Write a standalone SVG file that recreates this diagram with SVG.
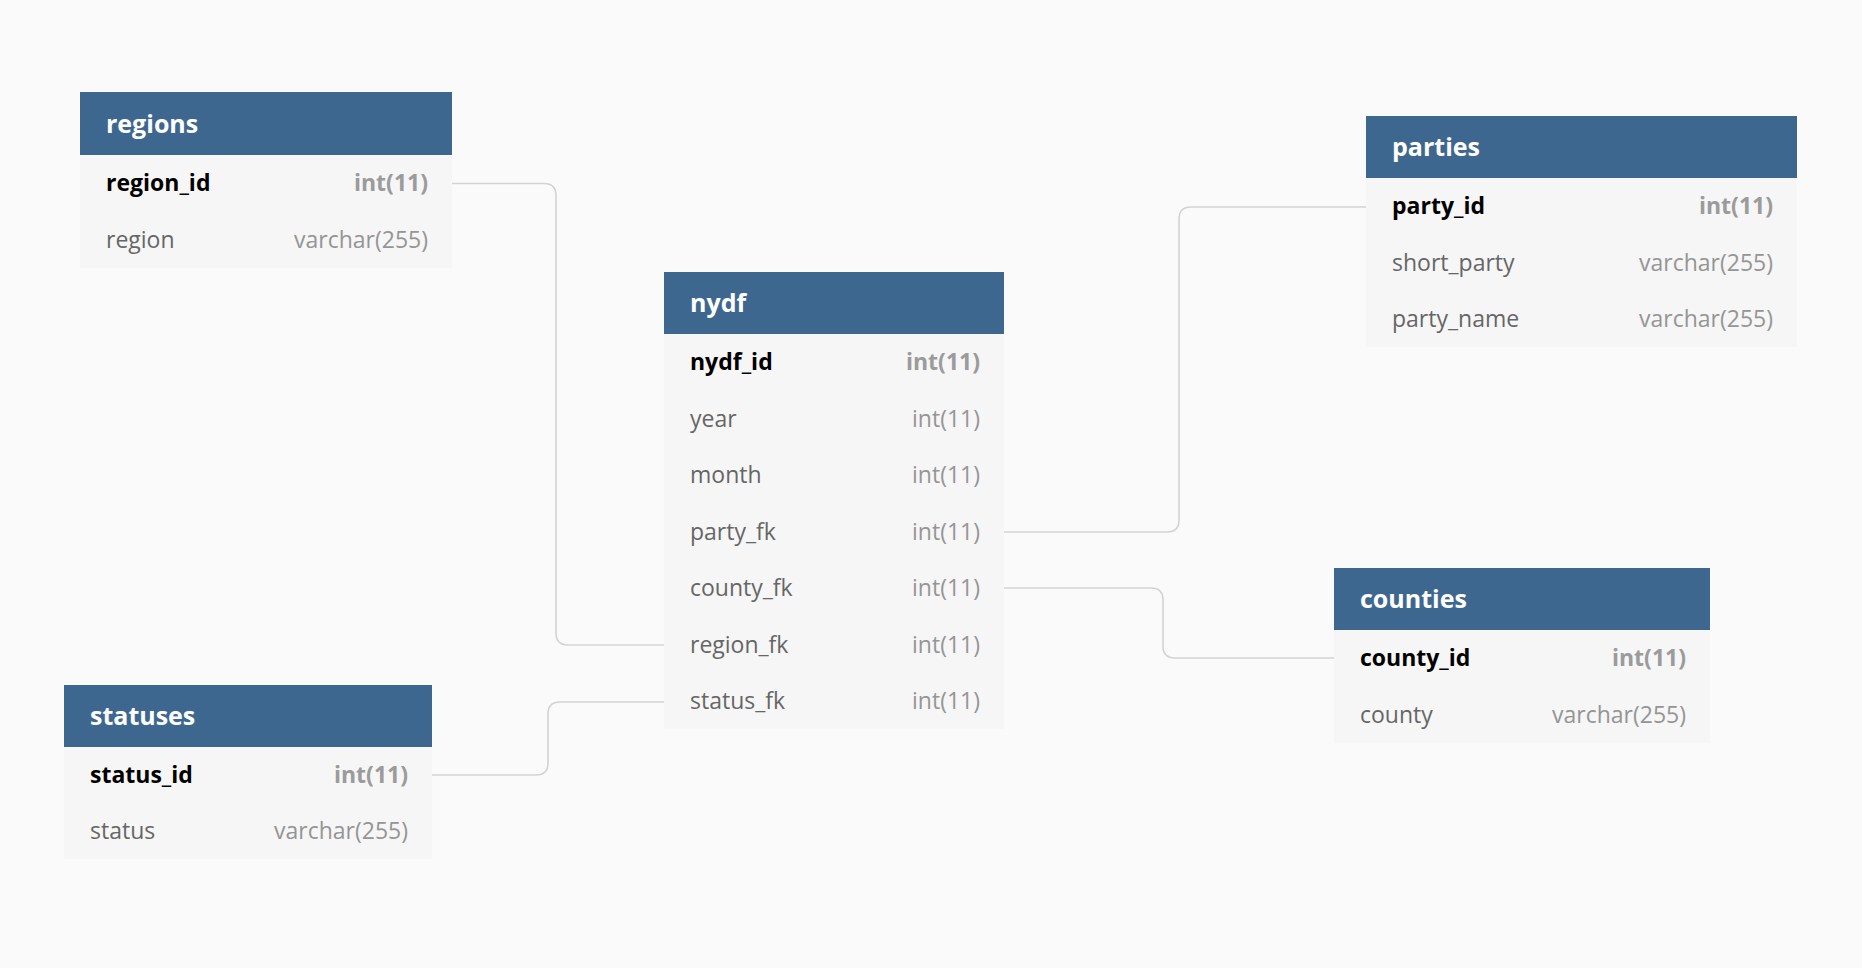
<svg xmlns="http://www.w3.org/2000/svg" width="1862" height="968" viewBox="0 0 1862 968">
<style>
.bg{fill:#fafafa}
.hd{fill:#3e6790}
.bd{fill:#f6f6f6}
.ttl{font-family:"Open Sans","Noto Sans",sans-serif;font-size:25px;font-weight:700;fill:#ffffff}
.pk{font-family:"Open Sans","Noto Sans",sans-serif;font-size:23px;font-weight:700;fill:#000000}
.pkt{font-family:"Open Sans","Noto Sans",sans-serif;font-size:23px;font-weight:700;fill:#9b9b9b;text-anchor:end}
.fn{font-family:"Open Sans","Noto Sans",sans-serif;font-size:23px;fill:#666666}
.ft{font-family:"Open Sans","Noto Sans",sans-serif;font-size:23px;fill:#959595;text-anchor:end}
.cn{fill:none;stroke:#d3d3d3;stroke-width:1.6}
</style>
<rect class="bg" x="0" y="0" width="1862" height="968"/>
<g id="connectors">
<path class="cn" d="M452,183.5 H544 Q556,183.5 556,195.5 V633 Q556,645 568,645 H664"/>
<path class="cn" d="M432,775 H536 Q548,775 548,763 V714 Q548,702 560,702 H664"/>
<path class="cn" d="M1004,532 H1167 Q1179,532 1179,520 V219 Q1179,207 1191,207 H1366"/>
<path class="cn" d="M1004,588 H1151 Q1163,588 1163,600 V646 Q1163,658 1175,658 H1334"/>
</g>
<g id="regions">
<rect class="bd" x="80" y="155" width="372" height="113"/>
<rect class="hd" x="80" y="92" width="372" height="63"/>
<text class="ttl" x="106" y="133">regions</text>
<text class="pk" x="106" y="191">region_id</text>
<text class="pkt" x="428" y="191">int(11)</text>
<text class="fn" x="106" y="248">region</text>
<text class="ft" x="428" y="248">varchar(255)</text>
</g>
<g id="nydf">
<rect class="bd" x="664" y="334" width="340" height="395"/>
<rect class="hd" x="664" y="272" width="340" height="62"/>
<text class="ttl" x="690" y="312">nydf</text>
<text class="pk" x="690" y="370">nydf_id</text>
<text class="pkt" x="980" y="370">int(11)</text>
<text class="fn" x="690" y="427">year</text>
<text class="ft" x="980" y="427">int(11)</text>
<text class="fn" x="690" y="483">month</text>
<text class="ft" x="980" y="483">int(11)</text>
<text class="fn" x="690" y="540">party_fk</text>
<text class="ft" x="980" y="540">int(11)</text>
<text class="fn" x="690" y="596">county_fk</text>
<text class="ft" x="980" y="596">int(11)</text>
<text class="fn" x="690" y="653">region_fk</text>
<text class="ft" x="980" y="653">int(11)</text>
<text class="fn" x="690" y="709">status_fk</text>
<text class="ft" x="980" y="709">int(11)</text>
</g>
<g id="parties">
<rect class="bd" x="1366" y="178" width="431" height="169"/>
<rect class="hd" x="1366" y="116" width="431" height="62"/>
<text class="ttl" x="1392" y="156">parties</text>
<text class="pk" x="1392" y="214">party_id</text>
<text class="pkt" x="1773" y="214">int(11)</text>
<text class="fn" x="1392" y="271">short_party</text>
<text class="ft" x="1773" y="271">varchar(255)</text>
<text class="fn" x="1392" y="327">party_name</text>
<text class="ft" x="1773" y="327">varchar(255)</text>
</g>
<g id="counties">
<rect class="bd" x="1334" y="630" width="376" height="113"/>
<rect class="hd" x="1334" y="568" width="376" height="62"/>
<text class="ttl" x="1360" y="608">counties</text>
<text class="pk" x="1360" y="666">county_id</text>
<text class="pkt" x="1686" y="666">int(11)</text>
<text class="fn" x="1360" y="723">county</text>
<text class="ft" x="1686" y="723">varchar(255)</text>
</g>
<g id="statuses">
<rect class="bd" x="64" y="747" width="368" height="112"/>
<rect class="hd" x="64" y="685" width="368" height="62"/>
<text class="ttl" x="90" y="725">statuses</text>
<text class="pk" x="90" y="783">status_id</text>
<text class="pkt" x="408" y="783">int(11)</text>
<text class="fn" x="90" y="839">status</text>
<text class="ft" x="408" y="839">varchar(255)</text>
</g>
</svg>
